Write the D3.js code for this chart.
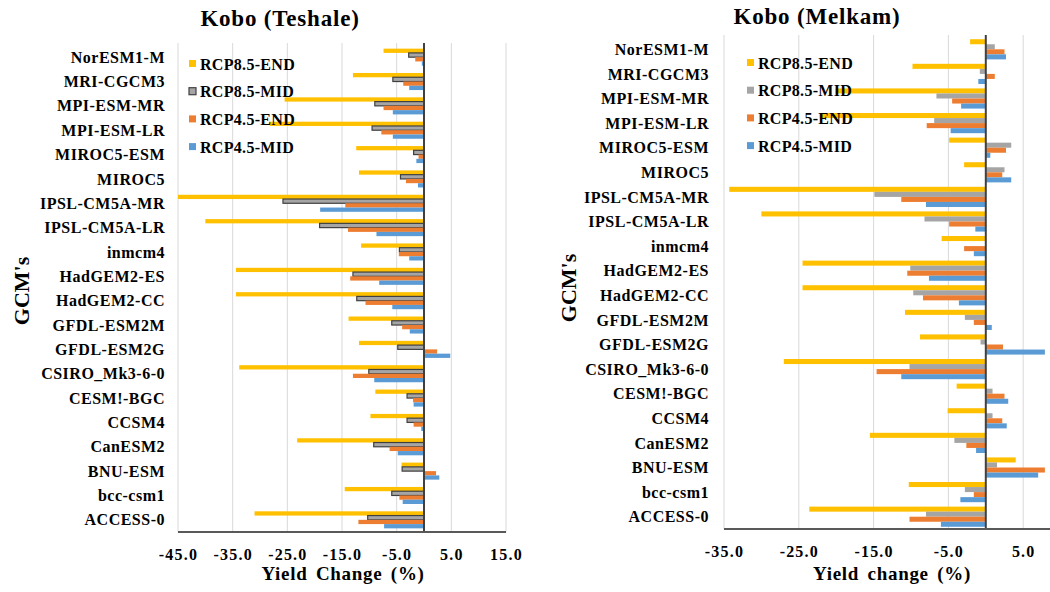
<!DOCTYPE html>
<html>
<head>
<meta charset="utf-8">
<script src="https://cdn.jsdelivr.net/npm/d3@7"></script>
<style>
    body { margin: 0; background: #fff; }
    svg text { font-family: "Liberation Serif", "Times New Roman", serif; font-weight: bold; fill: #000; }
</style>
</head>
<body>
<div class="container"></div>
<script>
const WIDTH = 1050;
const HEIGHT = 592;

const gcms = ["NorESM1-M", "MRI-CGCM3", "MPI-ESM-MR", "MPI-ESM-LR", "MIROC5-ESM", "MIROC5",
    "IPSL-CM5A-MR", "IPSL-CM5A-LR", "inmcm4", "HadGEM2-ES", "HadGEM2-CC", "GFDL-ESM2M",
    "GFDL-ESM2G", "CSIRO_Mk3-6-0", "CESM!-BGC", "CCSM4", "CanESM2", "BNU-ESM", "bcc-csm1", "ACCESS-0"];
const seriesNames = ["RCP8.5-END", "RCP8.5-MID", "RCP4.5-END", "RCP4.5-MID"];

// Kobo (Teshale)
const teshale85End = [-7.4, -13.0, -25.5, -28.2, -12.4, -11.9, -45.0, -40.0, -11.5, -34.4, -34.4, -13.8, -11.9, -33.8, -8.9, -9.8, -23.2, -4.1, -14.5, -31.0];
const teshale85Mid = [-2.8, -5.7, -9.0, -9.5, -1.9, -4.3, -25.8, -19.1, -4.5, -13.0, -12.3, -5.9, -4.8, -10.1, -3.1, -3.1, -9.2, -4.0, -5.9, -10.3];
const teshale45End = [-1.6, -3.8, -7.4, -7.8, -1.0, -3.3, -14.4, -13.9, -4.6, -13.5, -10.7, -4.0, 2.4, -13.0, -2.0, -1.9, -6.3, 2.2, -4.5, -12.0];
const teshale45Mid = [-0.4, -2.7, -5.7, -5.7, -1.4, -1.1, -19.0, -8.7, -2.7, -8.2, -5.8, -2.6, 4.8, -9.1, -1.9, -0.5, -4.8, 2.8, -3.9, -7.3];
const teshaleTicks = [-45, -35, -25, -15, -5, 5, 15];

// Kobo (Melkam)
const melkam85End = [-2.1, -9.8, -20.1, -22.2, -4.9, -2.9, -34.3, -30.0, -5.9, -24.5, -24.5, -10.8, -8.8, -27.0, -3.9, -5.1, -15.5, 4.0, -10.3, -23.6];
const melkam85Mid = [1.2, -0.8, -6.6, -6.9, 3.4, 2.5, -14.9, -8.2, 0.0, -10.1, -9.7, -2.8, -0.7, -10.2, 0.9, 0.9, -4.2, 1.5, -2.8, -8.0];
const melkam45End = [2.5, 1.2, -4.5, -7.9, 2.7, 2.2, -11.3, -4.9, -2.9, -10.5, -8.4, -1.6, 2.3, -14.6, 2.5, 2.2, -2.6, 7.9, -1.6, -10.2];
const melkam45Mid = [2.7, -1.0, -3.3, -4.7, 0.6, 3.4, -8.0, -1.4, -1.6, -7.6, -3.6, 0.8, 7.9, -11.3, 3.0, 2.8, -1.3, 7.0, -3.4, -6.0];
const melkamTicks = [-35, -25, -15, -5, 5];

const colors = ["#FFC000", "#A5A5A5", "#ED7D31", "#5B9BD5"];

var translate = function (x, y) {
    return "translate(" + x + "," + y + ")";
};

var svg;

var drawPanel = function (p) {
    var g = svg.append('g');

    var xScale = d3.scaleLinear().domain(p.domain).range(p.xRange);
    var yScale = d3.scaleBand().domain(gcms).range(p.yRange)
        .paddingInner(p.pad).paddingOuter(p.pad / 2);
    var sub = d3.scaleBand().domain(seriesNames).range([0, yScale.bandwidth()]);

    // gridlines
    g.selectAll('.grid').data(p.ticks).enter().append('line')
        .attr('x1', function (d) { return xScale(d); })
        .attr('x2', function (d) { return xScale(d); })
        .attr('y1', p.yRange[0] - 2)
        .attr('y2', p.yRange[1])
        .attr('stroke', '#D9D9D9').attr('stroke-width', 1);

    // bars
    p.values.forEach(function (vals, s) {
        g.selectAll('.bar' + s).data(vals).enter().append('rect')
            .attr('x', function (d) { return xScale(Math.min(0, d)); })
            .attr('y', function (d, i) { return yScale(gcms[i]) + sub(seriesNames[s]); })
            .attr('width', function (d) { return Math.abs(xScale(d) - xScale(0)); })
            .attr('height', sub.bandwidth())
            .attr('fill', colors[s])
            .attr('stroke', (s == 1 && p.outline) ? '#404040' : 'none')
            .attr('stroke-width', 1.2);
    });

    // zero (category) line
    g.append('line')
        .attr('x1', xScale(0)).attr('x2', xScale(0))
        .attr('y1', p.yRange[0] - 2).attr('y2', p.yRange[1])
        .attr('stroke', '#404040').attr('stroke-width', 2);

    // x axis
    var xAxis = d3.axisBottom(xScale).tickValues(p.ticks).tickSize(0).tickPadding(17)
        .tickFormat(function (d) { return d.toFixed(1); });
    var ax = g.append('g').attr('transform', translate(0, p.yRange[1])).call(xAxis);
    ax.select('.domain').remove();
    ax.selectAll('text').style('font-size', '16px').style('letter-spacing', '1.2px');
    g.append('line')
        .attr('x1', p.xRange[0]).attr('x2', Math.min(WIDTH, p.axisEnd))
        .attr('y1', p.yRange[1]).attr('y2', p.yRange[1])
        .attr('stroke', '#595959').attr('stroke-width', 2);

    // y axis labels
    var yAxis = d3.axisLeft(yScale).tickSize(0).tickPadding(0);
    var ay = g.append('g').attr('transform', translate(p.labelX, 0)).call(yAxis);
    ay.select('.domain').remove();
    ay.selectAll('text').style('font-size', '16px').style('letter-spacing', '0.5px').attr('dy', '0.35em');

    // titles
    g.append('text').attr('x', p.titleX).attr('y', p.titleY).attr('text-anchor', 'middle')
        .style('font-size', '23px').style('letter-spacing', '0.8px').text(p.title);
    g.append('text').attr('x', p.xTitleX).attr('y', 580).attr('text-anchor', 'middle')
        .style('font-size', '19px').style('letter-spacing', '0.7px').style('word-spacing', '3px').text(p.xTitle);
    g.append('text').attr('transform', translate(p.yTitleX, p.yTitleY) + ' rotate(-90)')
        .attr('text-anchor', 'middle').attr('dy', '0.35em').style('font-size', '22px').text("GCM's");

    // legend
    var lg = g.append('g').attr('transform', translate(p.legendX, p.legendY));
    seriesNames.forEach(function (name, s) {
        lg.append('rect').attr('x', 0).attr('y', s * p.legendStep - 4)
            .attr('width', 7).attr('height', 7)
            .attr('fill', colors[s])
            .attr('stroke', (s == 1 && p.outline) ? '#404040' : 'none')
            .attr('stroke-width', 1.2);
        lg.append('text').attr('x', 11).attr('y', s * p.legendStep).attr('dy', '0.35em')
            .style('font-size', '16px').style('letter-spacing', '0.3px').text(name);
    });
};

window.onload = function () {
    svg = d3.select('.container').append('svg')
        .attr('width', WIDTH)
        .attr('height', HEIGHT);

    drawPanel({
        title: "Kobo (Teshale)", titleX: 280, titleY: 26,
        xTitle: "Yield Change (%)", xTitleX: 343,
        yTitleX: 21, yTitleY: 291,
        values: [teshale85End, teshale85Mid, teshale45End, teshale45Mid],
        ticks: teshaleTicks, domain: [-45, 15], xRange: [178, 506], axisEnd: 506,
        yRange: [45, 532], pad: 0.3, labelX: 165, outline: true,
        legendX: 189, legendY: 64, legendStep: 27.7
    });

    drawPanel({
        title: "Kobo (Melkam)", titleX: 817, titleY: 24,
        xTitle: "Yield change (%)", xTitleX: 892,
        yTitleX: 568, yTitleY: 288,
        values: [melkam85End, melkam85Mid, melkam45End, melkam45Mid],
        ticks: melkamTicks, domain: [-35, 15], xRange: [724, 1098], axisEnd: 1050,
        yRange: [37, 529], pad: 0.18, labelX: 709, outline: false,
        legendX: 747, legendY: 63, legendStep: 27.7
    });
};
</script>
</body>
</html>
